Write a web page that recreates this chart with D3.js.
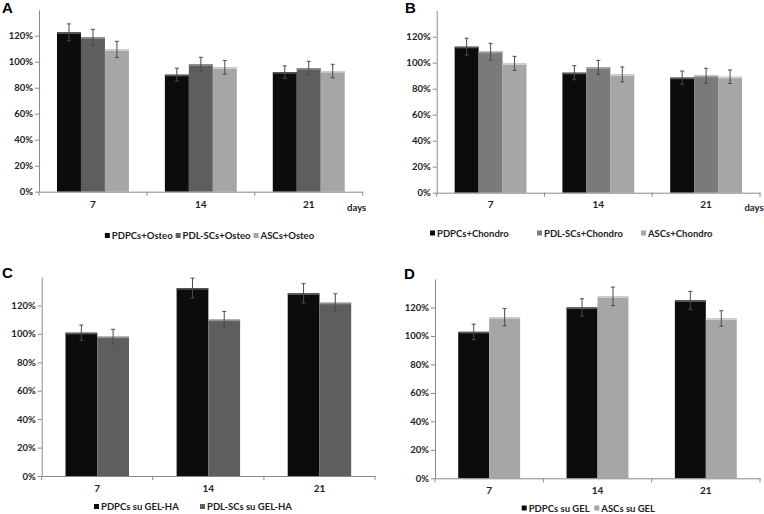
<!DOCTYPE html>
<html><head><meta charset="utf-8">
<script src="https://cdn.jsdelivr.net/npm/d3@7"></script>
<style>
body{margin:0;background:#fff;}
svg{display:block;font-family:Lato, "Open Sans", sans-serif;}
</style></head><body>
<svg id="c" width="764" height="514"></svg>
<script>
// ---- data ----
const days = ["7", "14", "21"];
const yTicks = [0, 0.2, 0.4, 0.6, 0.8, 1.0, 1.2];

const osteoSeries = ["PDPCs+Osteo", "PDL-SCs+Osteo", "ASCs+Osteo"];
const osteoPDPCs = [1.226, 0.900, 0.920];
const osteoPDPCsErr = [0.065, 0.050, 0.048];
const osteoPDL = [1.188, 0.980, 0.950];
const osteoPDLErr = [0.061, 0.054, 0.053];
const osteoASC = [1.095, 0.957, 0.928];
const osteoASCErr = [0.062, 0.053, 0.052];

const chondroSeries = ["PDPCs+Chondro", "PDL-SCs+Chondro", "ASCs+Chondro"];
const chondroPDPCs = [1.123, 0.923, 0.885];
const chondroPDPCsErr = [0.065, 0.054, 0.051];
const chondroPDL = [1.085, 0.964, 0.900];
const chondroPDLErr = [0.064, 0.054, 0.057];
const chondroASC = [0.995, 0.910, 0.892];
const chondroASCErr = [0.054, 0.057, 0.052];

const gelhaSeries = ["PDPCs su GEL-HA", "PDL-SCs su GEL-HA"];
const gelhaPDPCs = [1.008, 1.322, 1.285];
const gelhaPDPCsErr = [0.054, 0.070, 0.068];
const gelhaPDL = [0.980, 1.100, 1.219];
const gelhaPDLErr = [0.052, 0.058, 0.063];

const gelSeries = ["PDPCs su GEL", "ASCs su GEL"];
const gelPDPCs = [1.029, 1.200, 1.250];
const gelPDPCsErr = [0.054, 0.061, 0.063];
const gelASC = [1.132, 1.278, 1.123];
const gelASCErr = [0.061, 0.065, 0.054];

// ---- styles ----
const C_BLACK = "#0c0c0c", C_DARK = "#5e5e5e", C_MID = "#7a7a7a", C_LIGHT = "#a6a6a6";
const rim = {"#0c0c0c": "#5a5a5a", "#5e5e5e": "#8e8e8e", "#7a7a7a": "#a0a0a0", "#a6a6a6": "#d0d0d0"};

const panels = [
  {label: "A", lx: 2, ly: 13, left: 39, right: 362.7, y0: 191.7, ytop: 9.7,
   names: osteoSeries, vals: [osteoPDPCs, osteoPDL, osteoASC], errs: [osteoPDPCsErr, osteoPDLErr, osteoASCErr],
   colors: [C_BLACK, C_DARK, C_LIGHT], days: true, catY: 208, legY: 239, legX: null, legCenter: 209.5},
  {label: "B", lx: 405, ly: 13, left: 436.7, right: 760, y0: 192.7, ytop: 10.7,
   names: chondroSeries, vals: [chondroPDPCs, chondroPDL, chondroASC], errs: [chondroPDPCsErr, chondroPDLErr, chondroASCErr],
   colors: [C_BLACK, C_MID, C_LIGHT], days: true, catY: 208.5, legY: 236.5, legX: [430, 537, 641]},
  {label: "C", lx: 2, ly: 278, left: 41.7, right: 375, y0: 476, ytop: 277,
   names: gelhaSeries, vals: [gelhaPDPCs, gelhaPDL], errs: [gelhaPDPCsErr, gelhaPDLErr],
   colors: [C_BLACK, C_DARK], days: false, catY: 492.3, legY: 510, legX: [94, 200]},
  {label: "D", lx: 404, ly: 279, left: 435, right: 760, y0: 478.3, ytop: 279,
   names: gelSeries, vals: [gelPDPCs, gelASC], errs: [gelPDPCsErr, gelASCErr],
   colors: [C_BLACK, C_LIGHT], days: false, catY: 494.3, legY: 511.5, legX: [521.7, 594.3]}
];

const svg = d3.select("#c");
const AXIS = "#8a8a8a";

panels.forEach(p => {
  const g = svg.append("g");
  const y = d3.scaleLinear().domain([0, 1.4]).range([p.y0, p.ytop]);
  const x = d3.scaleBand().domain(days).range([p.left, p.right]).padding(0);
  const n = p.vals.length;
  const bw = x.bandwidth() / (n + 1.5);
  const xs = d3.scaleBand().domain(d3.range(n)).range([bw * 0.75, bw * 0.75 + bw * n]).padding(0);

  // panel label
  g.append("text").attr("x", p.lx).attr("y", p.ly).text(p.label)
    .attr("font-family", "Liberation Sans, Arial, sans-serif").attr("font-weight", "bold")
    .attr("font-size", 15).attr("fill", "#000");

  // bars
  p.vals.forEach((vals, si) => {
    const col = p.colors[si];
    const sg = g.append("g");
    days.forEach((d, i) => {
      const bx = x(d) + xs(si), v = vals[i];
      sg.append("rect").attr("x", bx).attr("y", y(v)).attr("width", xs.bandwidth())
        .attr("height", y(0) - y(v)).attr("fill", col);
      sg.append("rect").attr("x", bx).attr("y", y(v)).attr("width", xs.bandwidth())
        .attr("height", 1.6).attr("fill", rim[col]);
    });
  });
  // error bars
  p.vals.forEach((vals, si) => {
    days.forEach((d, i) => {
      const cx = x(d) + xs(si) + xs.bandwidth() / 2, v = vals[i], e = p.errs[si][i];
      const eg = g.append("g").attr("stroke", "#4a4a4a").attr("stroke-width", 1);
      eg.append("line").attr("x1", cx).attr("x2", cx).attr("y1", y(v + e)).attr("y2", y(v - e));
      eg.append("line").attr("x1", cx - 2).attr("x2", cx + 2).attr("y1", y(v + e)).attr("y2", y(v + e));
      eg.append("line").attr("x1", cx - 2).attr("x2", cx + 2).attr("y1", y(v - e)).attr("y2", y(v - e));
    });
  });

  // y axis
  const ya = g.append("g").attr("transform", `translate(${p.left},0)`)
    .call(d3.axisLeft(y).tickValues(yTicks).tickFormat(d3.format(".0%")).tickSize(4).tickSizeOuter(0).tickPadding(2));
  ya.select(".domain").attr("stroke", AXIS);
  ya.selectAll(".tick line").attr("stroke", AXIS);
  ya.selectAll(".tick text").attr("font-size", 9.5).attr("font-weight", "bold").attr("fill", "#222")
    .attr("font-family", "Lato, sans-serif");

  // x axis
  const xa = g.append("g").attr("transform", `translate(0,${p.y0})`)
    .call(d3.axisBottom(x).tickSize(0).tickSizeOuter(0).tickPadding(0));
  xa.select(".domain").attr("stroke", AXIS);
  xa.selectAll(".tick text").attr("font-size", 10).attr("font-weight", "bold").attr("fill", "#222")
    .attr("font-family", "Lato, sans-serif").attr("dy", null).attr("y", p.catY - p.y0);
  const bounds = days.map(d => x(d)).concat([x.range()[1]]);
  g.append("g").selectAll("line").data(bounds).join("line")
    .attr("x1", d => d).attr("x2", d => d).attr("y1", p.y0).attr("y2", p.y0 + 4).attr("stroke", AXIS);

  if (p.days) {
    g.append("text").attr("x", p.right - 6).attr("y", p.catY + 2.5).attr("text-anchor", "middle")
      .attr("font-size", 9.5).attr("font-weight", "bold").attr("fill", "#222").text("days");
  }

  // legend
  const items = p.names.map((nm, si) => {
    const lg = g.append("g");
    lg.append("rect").attr("x", 0).attr("y", -6).attr("width", 5).attr("height", 5).attr("fill", p.colors[si]);
    const t = lg.append("text").attr("x", 7).attr("y", 0).attr("font-size", 9.5).attr("font-weight", "bold")
      .attr("fill", "#222").text(nm);
    return {lg, w: 7 + t.node().getComputedTextLength()};
  });
  if (p.legX) {
    items.forEach((it, si) => it.lg.attr("transform", `translate(${p.legX[si]},${p.legY})`));
  } else {
    const gap = 3;
    const total = d3.sum(items, it => it.w) + gap * (items.length - 1);
    let cx = p.legCenter - total / 2;
    items.forEach(it => { it.lg.attr("transform", `translate(${cx},${p.legY})`); cx += it.w + gap; });
  }
});
</script>
</body></html>
